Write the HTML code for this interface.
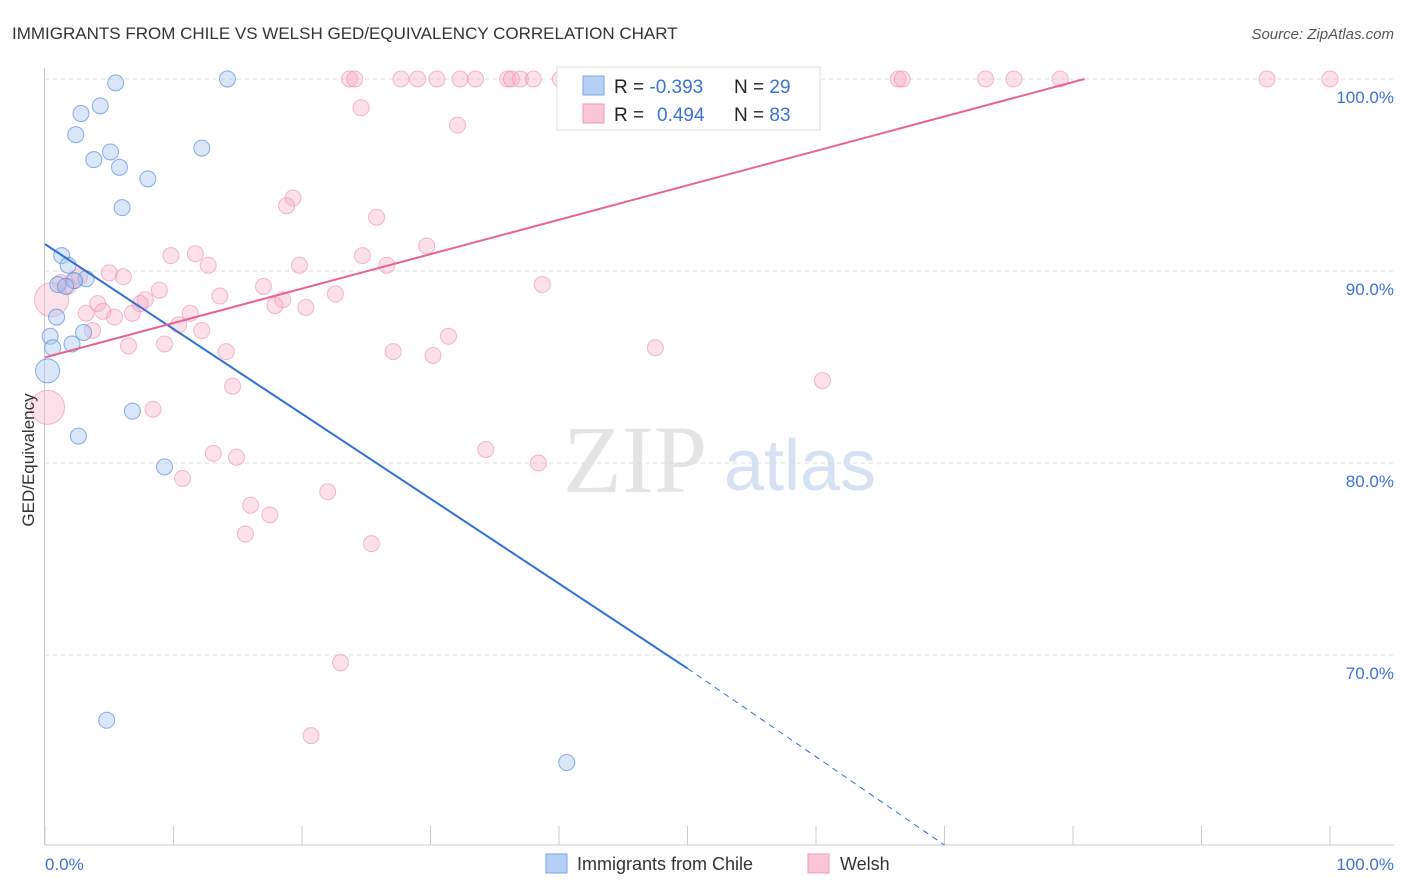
<!DOCTYPE html>
<html><head><meta charset="utf-8"><style>
body{margin:0;background:#fff;font-family:"Liberation Sans",sans-serif}
svg{display:block}
</style></head><body>
<svg id="chart" width="1406" height="892">
<text x="12" y="39" font-size="17" fill="#333">IMMIGRANTS FROM CHILE VS WELSH GED/EQUIVALENCY CORRELATION CHART</text>
<text x="1394" y="39" font-size="15" fill="#555" font-style="italic" text-anchor="end">Source: ZipAtlas.com</text>
<text x="635" y="492" font-size="96" fill="#e4e4e4" font-family="Liberation Serif,serif" text-anchor="middle">ZIP</text>
<text x="800" y="490" font-size="72" fill="#d6e2f3" text-anchor="middle">atlas</text>
<g id="grid"></g><g id="axes"></g><g id="pts"></g><g id="lines"></g>
<text transform="translate(34,460) rotate(-90)" font-size="17" fill="#333" text-anchor="middle">GED/Equivalency</text>
<text x="45" y="870" font-size="17" fill="#3a72d8">0.0%</text>
<text x="1394" y="870" font-size="17" fill="#3a72d8" text-anchor="end">100.0%</text>
<g>
<rect x="557" y="67" width="263" height="63" fill="#fff" stroke="#ddd"/>
<rect x="583" y="76" width="21" height="19" fill="#b5cff5" stroke="#7ba6e6"/>
<rect x="583" y="104" width="21" height="19" fill="#fac6d6" stroke="#ee9bb6"/>
<text x="614" y="93" font-size="19" fill="#222">R = <tspan fill="#3a72d8">-0.393</tspan></text>
<text x="734" y="93" font-size="19" fill="#222">N = <tspan fill="#3a72d8">29</tspan></text>
<text x="614" y="121" font-size="19" fill="#222">R = <tspan fill="#3a72d8" x="657">0.494</tspan></text>
<text x="734" y="121" font-size="19" fill="#222">N = <tspan fill="#3a72d8">83</tspan></text>
</g>
<g>
<rect x="546" y="854" width="21" height="19" fill="#b5cff5" stroke="#7ba6e6"/>
<text x="577" y="870" font-size="18" fill="#333">Immigrants from Chile</text>
<rect x="808" y="854" width="21" height="19" fill="#fac6d6" stroke="#ee9bb6"/>
<text x="840" y="870" font-size="18" fill="#333">Welsh</text>
</g>
</svg>
<script>
const yTicks=[100,90,80,70];
const xTicks=[0,10,20,30,40,50,60,70,80,90,100];
const chileX=[14.2,5.5,4.3,2.8,2.4,12.2,5.1,3.8,5.8,8.0,6.0,1.3,1.8,3.2,2.3,1.0,1.6,0.9,0.4,3.0,2.1,0.6,0.2,6.8,2.6,9.3,4.8,40.6];
const chileY=[100,99.8,98.6,98.2,97.1,96.4,96.2,95.8,95.4,94.8,93.3,90.8,90.3,89.6,89.5,89.3,89.2,87.6,86.6,86.8,86.2,86.0,84.8,82.7,81.4,79.8,66.6,64.4];
const welshX=[23.7,24.1,27.7,29.0,30.5,32.3,33.5,36.0,36.3,37.0,38.0,40.1,41.6,45.7,54.1,66.4,66.7,73.2,75.4,79.0,95.1,100,
24.6,32.1,19.3,18.8,25.8,29.7,9.8,11.7,12.7,19.8,24.7,26.6,38.7,17.0,13.6,8.9,6.1,5.0,1.2,2.2,2.7,1.8,4.1,7.8,7.4,18.5,22.6,17.9,20.3,3.2,5.4,4.5,6.8,11.3,10.4,12.2,3.7,31.4,9.3,6.5,14.1,27.1,30.2,47.5,60.5,14.6,8.4,34.3,13.1,14.9,38.4,10.7,22.0,16.0,17.5,15.6,25.4,23.0,20.7,0.2,0.5];
const welshY=[100,100,100,100,100,100,100,100,100,100,100,100,100,100,100,100,100,100,100,100,100,100,
98.5,97.6,93.8,93.4,92.8,91.3,90.8,90.9,90.3,90.3,90.8,90.3,89.3,89.2,88.7,89.0,89.7,89.9,89.4,89.5,89.7,89.2,88.3,88.5,88.3,88.5,88.8,88.2,88.1,87.8,87.6,87.9,87.8,87.8,87.2,86.9,86.9,86.6,86.2,86.1,85.8,85.8,85.6,86.0,84.3,84.0,82.8,80.7,80.5,80.3,80.0,79.2,78.5,77.8,77.3,76.3,75.8,69.6,65.8,82.9,88.5];
const chileLine=[[0,91.4],[50,69.3],[70,60.1]];
const welshLine=[[0,85.5],[80.9,100]];
const NS='http://www.w3.org/2000/svg';
const X=v=>45+v*12.85, Y=v=>79+(100-v)*19.2;
function mk(tag,attrs,parent){const e=document.createElementNS(NS,tag);for(const k in attrs)e.setAttribute(k,attrs[k]);document.getElementById(parent).appendChild(e);return e;}
yTicks.forEach(t=>{
 const l=mk('line',{x1:45,x2:1394,y1:Y(t),y2:Y(t),stroke:'#ddd','stroke-dasharray':'4 4'},'grid');
 
 
 const tx=mk('text',{x:1394,y:Y(t)+24,'font-size':17,fill:'#3a72d8','text-anchor':'end'},'grid');
 tx.textContent=t.toFixed(1)+'%';
 
 
});
const ax=mk('line',{x1:44.5,x2:44.5,y1:68,y2:845,stroke:'#ccc'},'axes');


const bx=mk('line',{x1:45,x2:1394,y1:845,y2:845,stroke:'#ccc'},'axes');


xTicks.forEach(t=>{
 const l=mk('line',{x1:X(t),x2:X(t),y1:826,y2:845,stroke:'#ccc'},'axes');
 
 
});
welshX.forEach((v,i)=>{
 const big=i>=welshX.length-2;
 const c=mk('circle',{cx:X(v),cy:Y(welshY[i]),r:big?17:8,fill:'rgba(246,170,196,0.35)',stroke:'rgba(236,140,172,0.6)'},'pts');
 
 
});
chileX.forEach((v,i)=>{
 const big=i===22;
 const c=mk('circle',{cx:X(v),cy:Y(chileY[i]),r:big?12:8,fill:'rgba(160,195,240,0.4)',stroke:'rgba(90,140,220,0.7)'},'pts');
 
 
});
let l1=mk('line',{x1:X(chileLine[0][0]),y1:Y(chileLine[0][1]),x2:X(chileLine[1][0]),y2:Y(chileLine[1][1]),stroke:'#2f6fd8','stroke-width':2},'lines');


let l2=mk('line',{x1:X(chileLine[1][0]),y1:Y(chileLine[1][1]),x2:X(chileLine[2][0]),y2:Y(chileLine[2][1]),stroke:'#2f6fd8','stroke-width':1,'stroke-dasharray':'6 5'},'lines');


let l3=mk('line',{x1:X(welshLine[0][0]),y1:Y(welshLine[0][1]),x2:X(welshLine[1][0]),y2:Y(welshLine[1][1]),stroke:'#e8648f','stroke-width':2},'lines');


</script>
</body></html>
